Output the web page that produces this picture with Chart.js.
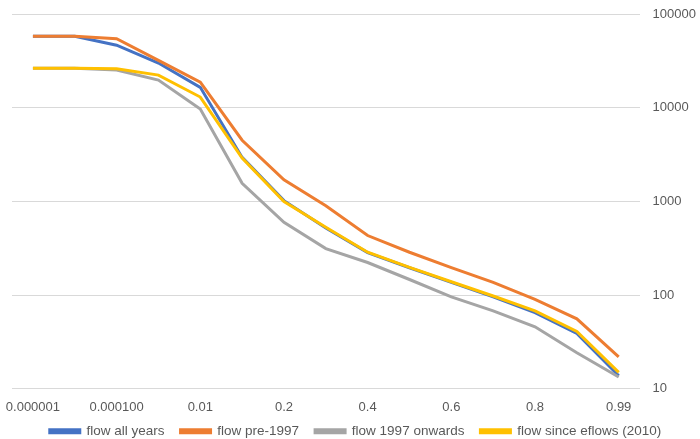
<!DOCTYPE html>
<html>
<head>
<meta charset="utf-8">
<script src="https://cdn.jsdelivr.net/npm/chart.js@4"></script>
<style>
  html, body { margin: 0; padding: 0; background: #fff; }
  #wrap { width: 700px; height: 439px; }
</style>
</head>
<body>
<div id="wrap"><canvas id="flowChart"></canvas></div>
<script>
const categories = ['0.000001', '0.000010', '0.000100', '0.001', '0.01', '0.1', '0.2', '0.3', '0.4', '0.5', '0.6', '0.7', '0.8', '0.9', '0.99'];
const flowAllYears = [58000, 58000, 46500, 30000, 16500, 2950, 1020, 520, 285, 196, 137, 96, 65, 39, 13.8];
const flowPre1997 = [58000, 58000, 54500, 32000, 18700, 4500, 1700, 900, 433, 287, 197, 137, 90, 56, 22];
const flow1997On = [26300, 26300, 25200, 19700, 9700, 1560, 600, 314, 223, 147, 96, 68, 46, 24.3, 13.4];
const flowEflows = [26300, 26300, 26000, 22300, 13000, 2900, 1000, 530, 287, 198, 139, 98, 68, 41, 15];
const yTicks = [10, 100, 1000, 10000, 100000];

const font = { family: 'Liberation Sans, Arial, sans-serif', size: 13 };

// pull the legend up towards the axis labels, legend padding is also the item gap
const raiseLegend = {
    id: 'raiseLegend',
    afterLayout(chart) {
        chart.legend.top -= 10;
        chart.legend.bottom -= 10;
    }
};

new Chart(document.getElementById('flowChart'), {
    type: 'line',
    data: {
        labels: categories,
        datasets: [
            { label: 'flow all years', data: flowAllYears, borderColor: '#4472C4', backgroundColor: '#4472C4', order: 3 },
            { label: 'flow pre-1997', data: flowPre1997, borderColor: '#ED7D31', backgroundColor: '#ED7D31', order: 2 },
            { label: 'flow 1997 onwards', data: flow1997On, borderColor: '#A5A5A5', backgroundColor: '#A5A5A5', order: 1 },
            { label: 'flow since eflows (2010)', data: flowEflows, borderColor: '#FFC000', backgroundColor: '#FFC000', order: 0 }
        ]
    },
    options: {
        responsive: true,
        maintainAspectRatio: false,
        animation: false,
        elements: {
            line: { borderWidth: 3, tension: 0 },
            point: { radius: 0 }
        },
        layout: { padding: { left: 12, top: 14, right: 1, bottom: -19 } },
        scales: {
            x: {
                offset: true,
                grid: { display: false },
                border: { display: false },
                ticks: {
                    autoSkip: false,
                    maxRotation: 0,
                    padding: 3,
                    color: '#595959',
                    font: font,
                    callback: function (value, index) {
                        return index % 2 === 0 ? this.getLabelForValue(value) : '';
                    }
                }
            },
            y: {
                type: 'logarithmic',
                position: 'right',
                min: 10,
                max: 100000,
                afterBuildTicks: axis => { axis.ticks = yTicks.map(v => ({ value: v })); },
                grid: { color: '#d9d9d9', drawTicks: true, tickLength: 10, tickColor: 'rgba(0,0,0,0)' },
                border: { display: false },
                ticks: {
                    padding: 3,
                    color: '#595959',
                    font: font,
                    callback: v => String(v)
                }
            }
        },
        plugins: {
            legend: {
                position: 'bottom',
                labels: {
                    boxWidth: 30,
                    boxHeight: 3,
                    padding: 16,
                    color: '#595959',
                    font: { family: font.family, size: 13.5 },
                    sort: (a, b) => a.datasetIndex - b.datasetIndex
                }
            },
            tooltip: { enabled: false }
        }
    },
    plugins: [raiseLegend]
});
</script>
</body>
</html>
